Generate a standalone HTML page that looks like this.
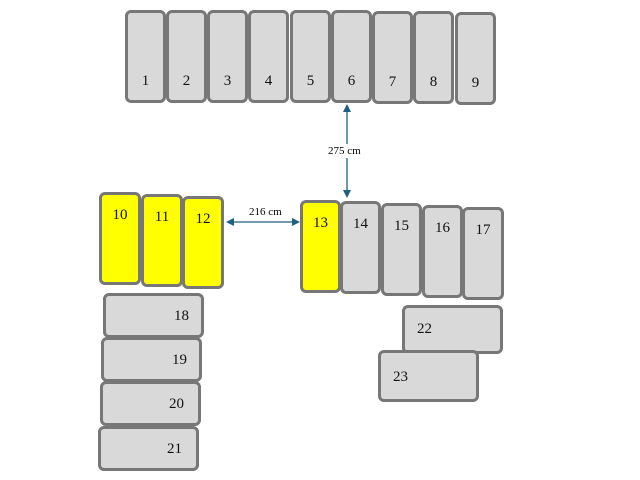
<!DOCTYPE html><html><head><style>
body{margin:0;width:640px;height:480px;background:#fff;position:relative;overflow:hidden;font-family:"Liberation Serif",serif}
.b{position:absolute;box-sizing:border-box;border:3px solid #777;border-radius:6px;background:#d9d9d9;font-size:15px;color:#111}
.y{background:#ffff00}
.b span{position:absolute}
.t span{bottom:10px;left:0;right:0;text-align:center}
.u span{top:12px;left:0;right:0;text-align:center}
.h span{top:12px;right:14px}
.l{position:absolute;font-size:11px;background:#fff}
</style></head><body>
<div class="b t" style="left:125px;top:10px;width:41px;height:93px"><span>1</span></div>
<div class="b t" style="left:166px;top:10px;width:41px;height:93px"><span>2</span></div>
<div class="b t" style="left:207px;top:10px;width:41px;height:93px"><span>3</span></div>
<div class="b t" style="left:248px;top:10px;width:41px;height:93px"><span>4</span></div>
<div class="b t" style="left:290px;top:10px;width:41px;height:93px"><span>5</span></div>
<div class="b t" style="left:331px;top:10px;width:41px;height:93px"><span>6</span></div>
<div class="b t" style="left:372px;top:11px;width:41px;height:93px"><span>7</span></div>
<div class="b t" style="left:413px;top:11px;width:41px;height:93px"><span>8</span></div>
<div class="b t" style="left:455px;top:12px;width:41px;height:93px"><span>9</span></div>

<div class="b u y" style="left:99px;top:192px;width:42px;height:93px"><span>10</span></div>
<div class="b u y" style="left:141px;top:194px;width:42px;height:93px"><span>11</span></div>
<div class="b u y" style="left:182px;top:196px;width:42px;height:93px"><span>12</span></div>
<div class="b u y" style="left:300px;top:200px;width:41px;height:93px"><span>13</span></div>
<div class="b u" style="left:340px;top:201px;width:41px;height:93px"><span>14</span></div>
<div class="b u" style="left:381px;top:203px;width:41px;height:93px"><span>15</span></div>
<div class="b u" style="left:422px;top:205px;width:41px;height:93px"><span>16</span></div>
<div class="b u" style="left:462px;top:207px;width:42px;height:93px"><span>17</span></div>

<div class="b h" style="left:103px;top:293px;width:101px;height:45px"><span style="right:12px">18</span></div>
<div class="b h" style="left:101px;top:337px;width:101px;height:45px"><span style="right:12px">19</span></div>
<div class="b h" style="left:100px;top:381px;width:101px;height:45px"><span style="right:14px">20</span></div>
<div class="b h" style="left:98px;top:426px;width:101px;height:45px"><span style="right:14px">21</span></div>
<div class="b" style="left:402px;top:305px;width:101px;height:49px"><span style="left:12px;top:13px">22</span></div>
<div class="b" style="left:378px;top:350px;width:101px;height:52px"><span style="left:12px;top:16px">23</span></div>

<svg width="640" height="480" style="position:absolute;left:0;top:0">
<g stroke="#1f5f7f" stroke-width="1.3" fill="#1f5f7f">
<line x1="347" y1="108" x2="347" y2="194"/>
<polygon points="347,104 343,112 351,112" stroke="none"/>
<polygon points="347,198 343,190 351,190" stroke="none"/>
<line x1="230" y1="222" x2="296" y2="222"/>
<polygon points="226,222 234,218 234,226" stroke="none"/>
<polygon points="300,222 292,218 292,226" stroke="none"/>
</g></svg>
<div class="l" style="left:327px;top:144px;padding:1px 1px">275 cm</div>
<div class="l" style="left:249px;top:206px">216 cm</div>
</body></html>
